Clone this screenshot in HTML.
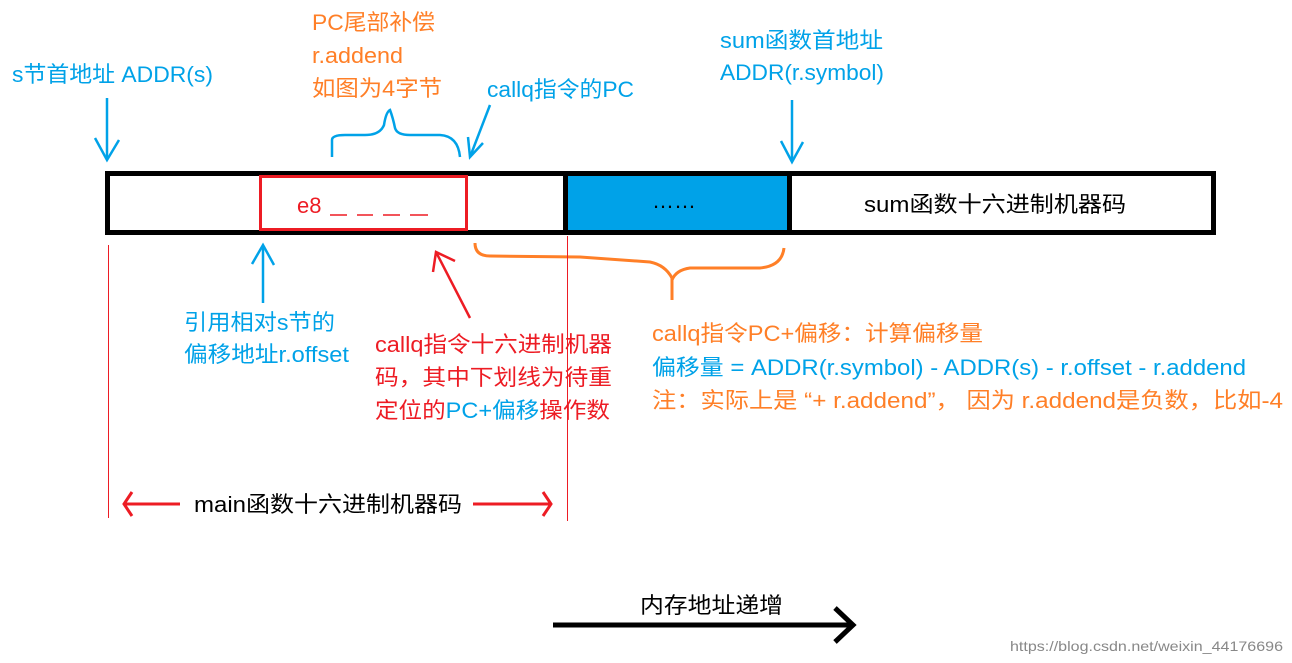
<!DOCTYPE html>
<html><head><meta charset="utf-8"><style>
html,body{margin:0;padding:0;background:#fff;}
svg{display:block;}
text{font-family:"Liberation Sans","Noto Sans CJK SC",sans-serif;font-size:22px;}
.b{fill:#00A2E8}.r{fill:#ED1C24}.o{fill:#FF7F27}.k{fill:#000}
</style></head><body>
<svg width="1292" height="663" viewBox="0 0 1292 663" xmlns="http://www.w3.org/2000/svg">
<rect x="568" y="176" width="219" height="54" fill="#00A2E8"/>
<rect x="107.5" y="173.5" width="1106" height="59" fill="none" stroke="#000" stroke-width="5"/>
<line x1="565.5" y1="173" x2="565.5" y2="233" stroke="#000" stroke-width="5"/>
<line x1="789.5" y1="173" x2="789.5" y2="233" stroke="#000" stroke-width="5"/>
<rect x="260.5" y="176.5" width="206" height="53" fill="none" stroke="#ED1C24" stroke-width="3"/>
<text x="297" y="213" class="r">e8</text>
<g stroke="#ED1C24" stroke-width="1.5">
<line x1="330" y1="215" x2="347" y2="215"/><line x1="357" y1="215" x2="373" y2="215"/>
<line x1="383" y1="215" x2="400" y2="215"/><line x1="410" y1="215" x2="428" y2="215"/>
</g>
<text x="652" y="208" class="k">……</text>
<text x="864" y="212" class="k" textLength="262" lengthAdjust="spacingAndGlyphs">sum函数十六进制机器码</text>

<text x="12" y="82" class="b" textLength="201" lengthAdjust="spacingAndGlyphs">s节首地址 ADDR(s)</text>
<text x="312" y="30" class="o" textLength="123" lengthAdjust="spacingAndGlyphs">PC尾部补偿</text>
<text x="312" y="63" class="o" textLength="91" lengthAdjust="spacingAndGlyphs">r.addend</text>
<text x="312" y="96" class="o" textLength="130" lengthAdjust="spacingAndGlyphs">如图为4字节</text>
<text x="487" y="97" class="b" textLength="147" lengthAdjust="spacingAndGlyphs">callq指令的PC</text>
<text x="720" y="48" class="b" textLength="163" lengthAdjust="spacingAndGlyphs">sum函数首地址</text>
<text x="720" y="80" class="b" textLength="164" lengthAdjust="spacingAndGlyphs">ADDR(r.symbol)</text>

<g stroke="#00A2E8" stroke-width="2.5" fill="none">
<line x1="107" y1="98" x2="107" y2="160"/><polyline points="95,138 107,160 119,140"/>
<line x1="792" y1="100" x2="792" y2="162"/><polyline points="781,141 792,162 803,142"/>
<line x1="490" y1="105" x2="470" y2="157"/><polyline points="468,137 470,157 483,143"/>
<path d="M332,157 V140 Q332,135 345,135 H365 Q380,135 384,125 Q386,112 390,110 Q393,118 395,128 Q397,135 410,135 H440 Q458,136 460,157"/>
<line x1="263" y1="303" x2="263" y2="245"/><polyline points="252,264 263,245 274,265"/>
</g>
<g stroke="#ED1C24" stroke-width="2.5" fill="none">
<line x1="470" y1="318" x2="436" y2="252"/><polyline points="433,272 436,252 455,261"/>
</g>
<path d="M475,243 Q475,256 490,256 L580,257 L650,262 Q665,265 672,278 V300 M672,280 Q676,270 690,268 L760,268 Q782,266 784,248" stroke="#FF7F27" stroke-width="3" fill="none"/>

<line x1="108.5" y1="245" x2="108.5" y2="518" stroke="#ED1C24" stroke-width="1"/>
<line x1="567.5" y1="236" x2="567.5" y2="521" stroke="#ED1C24" stroke-width="1"/>

<text x="184" y="330" class="b" textLength="151" lengthAdjust="spacingAndGlyphs">引用相对s节的</text>
<text x="184" y="362" class="b" textLength="165" lengthAdjust="spacingAndGlyphs">偏移地址r.offset</text>
<text x="375" y="352" class="r" textLength="237" lengthAdjust="spacingAndGlyphs">callq指令十六进制机器</text>
<text x="375" y="385" class="r" textLength="237" lengthAdjust="spacingAndGlyphs">码，其中下划线为待重</text>
<text x="375" y="418" textLength="235" lengthAdjust="spacingAndGlyphs"><tspan class="r">定位的</tspan><tspan class="b">PC+偏移</tspan><tspan class="r">操作数</tspan></text>

<text x="652" y="341" class="o" textLength="331" lengthAdjust="spacingAndGlyphs">callq指令PC+偏移：计算偏移量</text>
<text x="652" y="375" class="b" textLength="594" lengthAdjust="spacingAndGlyphs">偏移量 = ADDR(r.symbol) - ADDR(s) - r.offset - r.addend</text>
<text x="652" y="408" class="o" textLength="631" lengthAdjust="spacingAndGlyphs">注：实际上是 “+ r.addend”， 因为 r.addend是负数，比如-4</text>

<g stroke="#ED1C24" stroke-width="3" fill="none">
<line x1="124" y1="504" x2="180" y2="504"/><polyline points="132,492 124,504 132,516"/>
<line x1="473" y1="504" x2="551" y2="504"/><polyline points="543,492 551,504 543,516"/>
</g>
<text x="194" y="512" class="k" textLength="268" lengthAdjust="spacingAndGlyphs">main函数十六进制机器码</text>

<text x="640" y="613" class="k" textLength="143" lengthAdjust="spacingAndGlyphs">内存地址递增</text>
<g stroke="#000" stroke-width="5" fill="none">
<line x1="553" y1="625" x2="852" y2="625"/><polyline points="835,608 853,625 835,642"/>
</g>
<text x="1010" y="651" style="font-size:14px;fill:#888" textLength="273" lengthAdjust="spacingAndGlyphs">https://blog.csdn.net/weixin_44176696</text>
</svg>
</body></html>
